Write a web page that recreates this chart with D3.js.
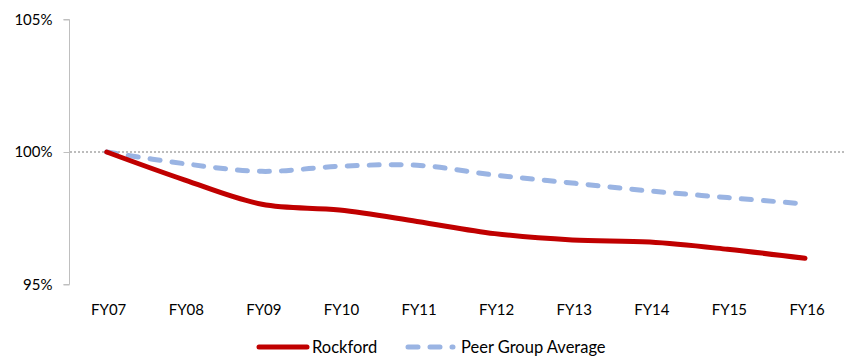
<!DOCTYPE html>
<html>
<head>
<meta charset="utf-8">
<title>Rockford vs Peer Group</title>
<script src="https://cdnjs.cloudflare.com/ajax/libs/d3/7.8.5/d3.min.js"></script>
<style>
body { margin: 0; background: #fff; }
text { font-family: Lato, "Open Sans", sans-serif; fill: #000; }
</style>
</head>
<body>
<script>
var years = ["FY07", "FY08", "FY09", "FY10", "FY11", "FY12", "FY13", "FY14", "FY15", "FY16"];
var rockford = [100, 98.95, 98.03, 97.81, 97.38, 96.92, 96.68, 96.6, 96.33, 95.99];
var peerAvg = [100, 99.56, 99.27, 99.46, 99.5, 99.13, 98.83, 98.53, 98.28, 98.04];
var yTicks = [95, 100, 105];

var width = 847, height = 357;

var svg = d3.select("body").append("svg")
    .attr("width", width)
    .attr("height", height);

var x = d3.scalePoint()
    .domain(years)
    .range([106.7, 805])
    .padding(0);

var y = d3.scaleLinear()
    .domain([95, 105])
    .range([284.5, 19.5]);

// y axis
var yAxis = d3.axisLeft(y)
    .tickValues(yTicks)
    .tickSize(6)
    .tickFormat(function(d) { return d + "%"; });

var ya = svg.append("g")
    .attr("transform", "translate(69.5,0)")
    .call(yAxis);
ya.select(".domain").attr("stroke", "#bfbfbf").attr("d", "M-6," + y(105) + "H0V" + y(95) + "H-6");
ya.selectAll(".tick line").attr("stroke", "#bfbfbf");
ya.selectAll(".tick text")
    .attr("x", -17)
    .style("font-size", "15px");

// reference line at 100%
svg.append("line")
    .attr("x1", 70).attr("x2", 845)
    .attr("y1", y(100)).attr("y2", y(100))
    .attr("stroke", "#a6a6a6")
    .attr("stroke-width", 1.5)
    .attr("stroke-dasharray", "2,2");

// x labels
var xa = svg.append("g")
    .attr("transform", "translate(1.5,314.5)")
    .call(d3.axisBottom(x).tickSize(0).tickPadding(0));
xa.select(".domain").remove();
xa.selectAll(".tick text")
    .attr("dy", 0)
    .style("font-size", "15px");

var line = d3.line()
    .x(function(d, i) { return x(years[i]); })
    .y(function(d) { return y(d); })
    .curve(d3.curveCatmullRom);

svg.append("path")
    .datum(peerAvg)
    .attr("d", line)
    .attr("fill", "none")
    .attr("stroke", "#9ab4e3")
    .attr("stroke-width", 5)
    .attr("stroke-linecap", "round")
    .attr("stroke-dasharray", "10,12");

svg.append("path")
    .datum(rockford)
    .attr("d", line)
    .attr("fill", "none")
    .attr("stroke", "#c00000")
    .attr("stroke-width", 5)
    .attr("stroke-linecap", "round");

// legend
var legend = svg.append("g").attr("transform", "translate(0,347)");
legend.append("line")
    .attr("x1", 259).attr("x2", 307)
    .attr("stroke", "#c00000").attr("stroke-width", 5).attr("stroke-linecap", "round");
legend.append("text")
    .attr("x", 312).attr("y", 6)
    .style("font-size", "16.5px")
    .text("Rockford");
legend.append("line")
    .attr("x1", 408).attr("x2", 453)
    .attr("stroke", "#9ab4e3").attr("stroke-width", 5).attr("stroke-linecap", "round")
    .attr("stroke-dasharray", "10,12");
legend.append("text")
    .attr("x", 461).attr("y", 6)
    .style("font-size", "16.5px")
    .text("Peer Group Average");
</script>
</body>
</html>
